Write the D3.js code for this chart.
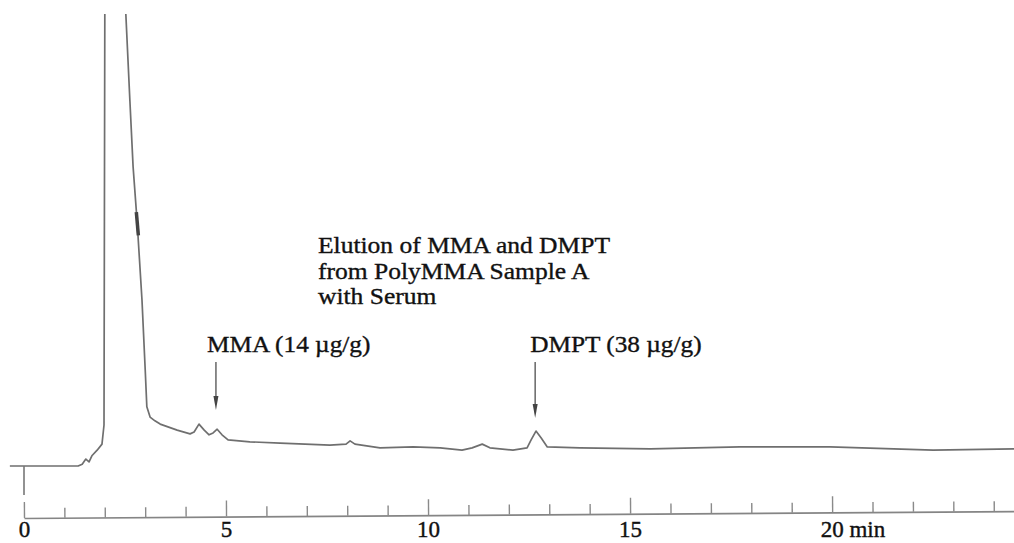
<!DOCTYPE html>
<html>
<head>
<meta charset="utf-8">
<script src="https://cdn.jsdelivr.net/npm/d3@7"></script>
<style>
  body { margin: 0; background: #fff; }
  svg { display: block; }
  text { font-family: "Liberation Serif", "DejaVu Serif", "Noto Serif", serif; fill: #111; }
</style>
</head>
<body>
<svg id="chart"></svg>
<script>
// retention time (min) and detector signal (arbitrary units)
const times = [-0.35, 1.34, 1.44, 1.53, 1.61, 1.68, 1.81, 1.93, 1.98, 2.0, 2.25, 2.52, 2.62, 2.70, 2.80,
  2.92, 3.0, 3.04, 3.12, 3.24, 3.37, 3.79, 4.11, 4.21, 4.33, 4.46, 4.58, 4.68, 4.78, 4.90, 5.05,
  5.59, 6.34, 7.57, 7.97, 8.07, 8.19, 8.81, 9.63, 10.30, 10.84, 11.09, 11.34, 11.53, 12.10,
  12.45, 12.55, 12.67, 12.80, 12.95, 13.76, 15.50, 17.72, 19.95, 22.5, 24.5];
const signal = [3.0, 3.0, 3.4, 4.5, 3.9, 5.2, 6.4, 7.7, 11.8, 100, 260, 100, 81.5, 67.2, 55.4,
  38.6, 23.6, 15.7, 13.5, 12.7, 12.0, 10.7, 9.9, 10.3, 12.0, 10.7, 9.7, 10.1, 10.9, 9.7, 8.6,
  8.2, 7.9, 7.5, 7.7, 8.4, 7.7, 6.9, 7.1, 6.9, 6.4, 6.9, 7.7, 6.9, 6.4,
  6.9, 8.6, 10.5, 9.0, 7.1, 6.9, 6.7, 7.1, 7.1, 6.4, 6.7];

// injection mark at t = 0
const injectTime = 0;
const injectRange = [3.0, -3.2];

// small pen mark on the tail of the solvent peak
const penMark = [[2.78, 57.5], [2.83, 52.5]];

const minorTicks = d3.range(0, 25);
const majorTicks = [0, 5, 10, 15, 20];

const titleLines = ["Elution of MMA and DMPT", "from PolyMMA Sample A", "with Serum"];
const peakNames = ["MMA (14 µg/g)", "DMPT (38 µg/g)"];
const peakTimes = [4.75, 12.65];
const arrowTop = [25.3, 25.3];
const arrowTip = [15.0, 13.3];
const labelShift = [-9, -5];

const width = 1014, height = 543;
const serif = "Liberation Serif, DejaVu Serif, Noto Serif, serif";

const svg = d3.select("#chart").attr("width", width).attr("height", height);

const x = d3.scaleLinear().domain([0, 24.5]).range([24, 1014]);
const y = d3.scaleLinear().domain([0, 100]).range([480, 14]);

svg.append("clipPath").attr("id", "clip")
  .append("rect").attr("x", 0).attr("y", y(100)).attr("width", width).attr("height", height);

// axis line and ticks (the scan is slightly tilted)
const axisG = svg.append("g")
  .attr("transform", "translate(0,518) rotate(-0.4,24,0)")
  .call(d3.axisTop(x).tickValues(minorTicks).tickSize(10).tickSizeOuter(0).tickFormat(""));
axisG.select(".domain").attr("stroke", "#858585").attr("stroke-width", 1.6);
axisG.selectAll(".tick line")
  .attr("stroke", "#8a8a8a").attr("stroke-width", 1.4)
  .attr("y2", d => d % 5 === 0 ? -16 : -10);

// tick labels
const labelG = svg.append("g")
  .attr("transform", "translate(0,518)")
  .call(d3.axisBottom(x).tickValues(majorTicks).tickSize(0).tickPadding(3));
labelG.select(".domain").remove();
labelG.attr("font-family", serif);
labelG.selectAll(".tick text")
  .attr("font-size", 23)
  .attr("fill", "#111")
  .attr("stroke", "#111").attr("stroke-width", 0.4);
labelG.selectAll(".tick").filter(d => d === 20).select("text")
  .attr("text-anchor", "start").attr("x", -12)
  .text("20 min");

// trace
const line = d3.line().x(d => x(d[0])).y(d => y(d[1]));
svg.append("path")
  .datum(d3.zip(times, signal))
  .attr("clip-path", "url(#clip)")
  .attr("fill", "none")
  .attr("stroke", "#6f6f6f")
  .attr("stroke-width", 1.7)
  .attr("stroke-linejoin", "round")
  .attr("d", line);

svg.append("line")
  .attr("x1", x(injectTime)).attr("x2", x(injectTime))
  .attr("y1", y(injectRange[0])).attr("y2", y(injectRange[1]))
  .attr("stroke", "#777").attr("stroke-width", 1.6);

svg.append("path")
  .datum(penMark)
  .attr("fill", "none").attr("stroke", "#444").attr("stroke-width", 3.5)
  .attr("d", line);

// title block
const title = svg.append("g").attr("transform", "translate(318,0)")
  .attr("font-family", serif);
title.selectAll("text")
  .data(titleLines)
  .join("text")
  .attr("transform", (d, i) => `translate(0,${253 + i * 25.5}) scale(1.11,1)`)
  .attr("font-size", 23)
  .attr("stroke", "#111").attr("stroke-width", 0.35)
  .text(d => d);

// peak annotations
peakNames.forEach((name, i) => {
  const px = x(peakTimes[i]);
  const y0 = y(arrowTop[i]), y1 = y(arrowTip[i]);
  svg.append("line")
    .attr("x1", px).attr("x2", px).attr("y1", y0).attr("y2", y1 - 10)
    .attr("stroke", "#666").attr("stroke-width", 1.5);
  svg.append("path")
    .attr("d", `M${px - 2.5},${y1 - 14}L${px + 2.5},${y1 - 14}L${px},${y1}Z`)
    .attr("fill", "#444");
  svg.append("text")
    .attr("transform", `translate(${px + labelShift[i]},352) scale(1.1,1)`)
    .attr("font-family", serif)
    .attr("font-size", 23)
    .attr("stroke", "#111").attr("stroke-width", 0.35)
    .text(name);
});
</script>
</body>
</html>
